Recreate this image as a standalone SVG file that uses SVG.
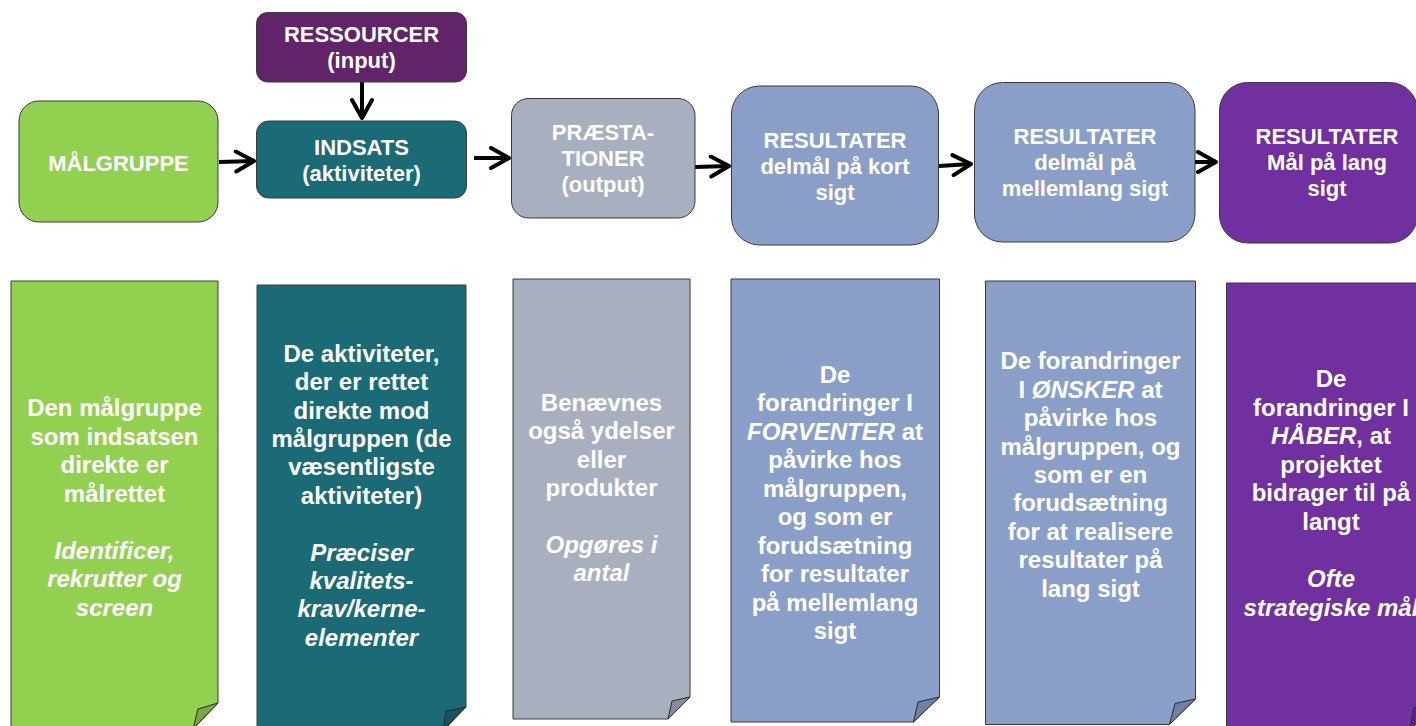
<svg xmlns="http://www.w3.org/2000/svg" width="1416" height="726" viewBox="0 0 1416 726">
  <style>
    .box { stroke: #3a3a3a; stroke-width: 1; }
    .note { stroke: #3a3a3a; stroke-width: 1; }
    .flap { stroke: #2a2a2a; stroke-width: 1; stroke-linejoin: round; }
    .head { font-family: "Liberation Sans", Arial, Helvetica, sans-serif; font-weight: bold; font-size: 22px; fill: #ffffff; text-anchor: middle; }
    .body { font-family: "Liberation Sans", Arial, Helvetica, sans-serif; font-weight: bold; font-size: 24px; fill: #ffffff; text-anchor: middle; }
    .it { font-style: italic; }
    .conn { stroke: #000000; stroke-width: 4; fill: none; marker-end: url(#chevron); }
  </style>
  <defs>
    <marker id="chevron" markerUnits="userSpaceOnUse" viewBox="0 0 24 24" markerWidth="24" markerHeight="24" refX="21" refY="12" orient="auto">
      <path d="M3,2 L21,12 L3,22" fill="none" stroke="#000000" stroke-width="4" stroke-linejoin="round" stroke-linecap="round"/>
    </marker>
  </defs>

  <rect width="1416" height="726" fill="#ffffff"/>

  <!-- connectors -->
  <g id="connectors">
    <path class="conn" d="M219,162 L254,161"/>
    <path class="conn" d="M362,82 L362,118"/>
    <path class="conn" d="M474,158 L509,158"/>
    <path class="conn" d="M695,167 L729,166"/>
    <path class="conn" d="M939,166 L971,164"/>
    <path class="conn" d="M1195,162 L1216,162"/>
  </g>

  <!-- top row -->
  <g id="malgruppe">
    <rect class="box" x="19" y="101" width="199" height="121" rx="20" fill="#92D050"/>
    <text class="head" x="118.5" y="171">MÅLGRUPPE</text>
  </g>

  <g id="ressourcer">
    <rect class="box" x="256.5" y="12.5" width="210" height="69.5" rx="11" fill="#622468"/>
    <text class="head" x="361.5" y="42">RESSOURCER</text>
    <text class="head" x="361.5" y="68">(input)</text>
  </g>

  <g id="indsats">
    <rect class="box" x="256.5" y="121" width="210" height="77" rx="12" fill="#1A6B75"/>
    <text class="head" x="361.5" y="155">INDSATS</text>
    <text class="head" x="361.5" y="181">(aktiviteter)</text>
  </g>

  <g id="praestationer">
    <rect class="box" x="511.5" y="98.5" width="183.5" height="119.5" rx="17" fill="#A8AFBE"/>
    <text class="head" x="603" y="140">PRÆSTA-</text>
    <text class="head" x="603" y="166">TIONER</text>
    <text class="head" x="603" y="192">(output)</text>
  </g>

  <g id="resultater-kort">
    <rect class="box" x="731.5" y="86" width="207" height="159" rx="28" fill="#8A9FC8"/>
    <text class="head" x="835" y="148">RESULTATER</text>
    <text class="head" x="835" y="174">delmål på kort</text>
    <text class="head" x="835" y="200">sigt</text>
  </g>

  <g id="resultater-mellem">
    <rect class="box" x="974.5" y="82.5" width="220.5" height="159.5" rx="28" fill="#8A9FC8"/>
    <text class="head" x="1085" y="144">RESULTATER</text>
    <text class="head" x="1085" y="170">delmål på</text>
    <text class="head" x="1085" y="196">mellemlang sigt</text>
  </g>

  <g id="resultater-lang">
    <rect class="box" x="1219.5" y="82.5" width="198" height="160.5" rx="28" fill="#7030A0"/>
    <text class="head" x="1327" y="144">RESULTATER</text>
    <text class="head" x="1327" y="170">Mål på lang</text>
    <text class="head" x="1327" y="196">sigt</text>
  </g>

  <!-- bottom row: notes with a curled corner -->
  <g id="note-malgruppe">
    <path class="note" d="M11,281 L218,281 L218,703 L193,729 L11,729 Z" fill="#92D050"/>
    <path class="flap" d="M218,703 L198,709 L193,729 Z" fill="#75A83E"/>
    <text class="body" x="114.5" y="416">Den målgruppe</text>
    <text class="body" x="114.5" y="444.5">som indsatsen</text>
    <text class="body" x="114.5" y="473">direkte er</text>
    <text class="body" x="114.5" y="501.5">målrettet</text>
    <text class="body it" x="114.5" y="558.5">Identificer,</text>
    <text class="body it" x="114.5" y="587">rekrutter og</text>
    <text class="body it" x="114.5" y="615.5">screen</text>
  </g>

  <g id="note-indsats">
    <path class="note" d="M257,285 L466,285 L466,707 L444,730 L257,730 Z" fill="#1A6B75"/>
    <path class="flap" d="M466,707 L446,711 L443,730 Z" fill="#14565F"/>
    <text class="body" x="361.5" y="361.7">De aktiviteter,</text>
    <text class="body" x="361.5" y="390">der er rettet</text>
    <text class="body" x="361.5" y="418.5">direkte mod</text>
    <text class="body" x="361.5" y="447">målgruppen (de</text>
    <text class="body" x="361.5" y="475.4">væsentligste</text>
    <text class="body" x="361.5" y="503.8">aktiviteter)</text>
    <text class="body it" x="361.5" y="560.6">Præciser</text>
    <text class="body it" x="361.5" y="589">kvalitets-</text>
    <text class="body it" x="361.5" y="617.4">krav/kerne-</text>
    <text class="body it" x="361.5" y="645.8">elementer</text>
  </g>

  <g id="note-praestationer">
    <path class="note" d="M513,279 L690,279 L690,697 L668,719 L513,719 Z" fill="#A8AFBE"/>
    <path class="flap" d="M690,697 L672,701 L668,719 Z" fill="#878D9C"/>
    <text class="body" x="601.5" y="411">Benævnes</text>
    <text class="body" x="601.5" y="439.3">også ydelser</text>
    <text class="body" x="601.5" y="467.7">eller</text>
    <text class="body" x="601.5" y="496">produkter</text>
    <text class="body it" x="601.5" y="553">Opgøres i</text>
    <text class="body it" x="601.5" y="581.3">antal</text>
  </g>

  <g id="note-kort">
    <path class="note" d="M731,279 L939.5,279 L939.5,697 L913.5,722 L731,722 Z" fill="#8A9FC8"/>
    <path class="flap" d="M939.5,697 L918,702 L913.5,722 Z" fill="#6E80A7"/>
    <text class="body" x="835" y="382.5">De</text>
    <text class="body" x="835" y="411">forandringer I</text>
    <text class="body" x="835" y="439.5"><tspan class="it">FORVENTER</tspan> at</text>
    <text class="body" x="835" y="468">påvirke hos</text>
    <text class="body" x="835" y="496.5">målgruppen,</text>
    <text class="body" x="835" y="525">og som er</text>
    <text class="body" x="835" y="553.5">forudsætning</text>
    <text class="body" x="835" y="582">for resultater</text>
    <text class="body" x="835" y="610.5">på mellemlang</text>
    <text class="body" x="835" y="639">sigt</text>
  </g>

  <g id="note-mellem">
    <path class="note" d="M985.5,281 L1195.5,281 L1195.5,699 L1169.5,724.5 L985.5,724.5 Z" fill="#8A9FC8"/>
    <path class="flap" d="M1195.5,699 L1175,703.5 L1169.5,724.5 Z" fill="#6E80A7"/>
    <text class="body" x="1090.5" y="369.3">De forandringer</text>
    <text class="body" x="1090.5" y="397.7">I <tspan class="it">ØNSKER</tspan> at</text>
    <text class="body" x="1090.5" y="426.1">påvirke hos</text>
    <text class="body" x="1090.5" y="454.5">målgruppen, og</text>
    <text class="body" x="1090.5" y="482.9">som er en</text>
    <text class="body" x="1090.5" y="511.3">forudsætning</text>
    <text class="body" x="1090.5" y="539.7">for at realisere</text>
    <text class="body" x="1090.5" y="568.1">resultater på</text>
    <text class="body" x="1090.5" y="596.5">lang sigt</text>
  </g>

  <g id="note-lang">
    <path class="note" d="M1226.5,283 L1436,283 L1436,704 L1410,730 L1226.5,730 Z" fill="#7030A0"/>
    <path class="flap" d="M1436,704 L1414,708 L1410,730 Z" fill="#58267F"/>
    <text class="body" x="1331" y="387">De</text>
    <text class="body" x="1331" y="415.6">forandringer I</text>
    <text class="body" x="1331" y="444.2"><tspan class="it">HÅBER</tspan>, at</text>
    <text class="body" x="1331" y="472.8">projektet</text>
    <text class="body" x="1331" y="501.4">bidrager til på</text>
    <text class="body" x="1331" y="530">langt</text>
    <text class="body it" x="1331" y="587.2">Ofte</text>
    <text class="body it" x="1331" y="615.8">strategiske mål</text>
  </g>
</svg>
